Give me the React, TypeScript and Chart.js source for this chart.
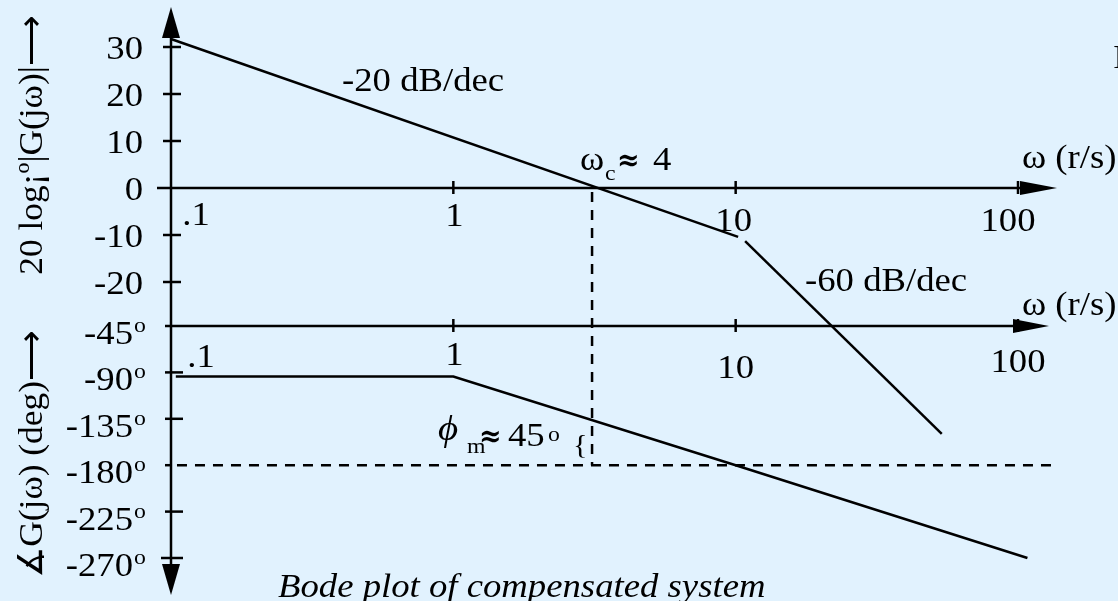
import { useEffect, useRef } from "react";
import { Chart, registerables } from "chart.js";

Chart.register(...registerables);

// Asymptotic magnitude: -20 dB/dec segment, then -60 dB/dec segment
const magLowW = [0.1, 10.2];
const magLowDb = [31.7, -10.4];
const magHighW = [10.8, 53.7];
const magHighDb = [-11.3, -52.3];

// Asymptotic phase
const phaseW = [0.104, 1, 10, 108];
const phaseDeg = [-94, -94, -180, -270];

// -180 deg reference and gain crossover frequency
const refW = [0.105, 136];
const refDeg = [-180, -180];
const crossoverW = 3.1;

// Axis ticks and labels
const magTicks = [30, 20, 10, 0, -10, -20];
const magTickLabels = ["30", "20", "10", "0", "-10", "-20"];
const phaseTicks = [-45, -90, -135, -180, -225, -270];
const phaseTickLabels = ["-45", "-90", "-135", "-180", "-225", "-270"];
const freqTicks = [1, 10, 100];
const freqLabelValues = [0.1, 1, 10, 100];
const freqLabels = [".1", "1", "10", "100"];

// Page geometry
const W = 1118;
const H = 601;
const LEFT = 171; // x of w = 0.1
const RIGHT = 1018; // x of w = 100
const TOP = 47; // y of +30 dB
const BOTTOM = 558; // y of -270 deg
const MAG_ZERO_Y = 188;
const PHASE_M45_Y = 326;

const magPerPx = 30 / (MAG_ZERO_Y - TOP);
const MAG_MIN = 30 - (BOTTOM - TOP) * magPerPx;
const degPerPx = 225 / (BOTTOM - PHASE_M45_Y);
const PHASE_MAX = -270 + (BOTTOM - TOP) * degPerPx;

const SERIF = "'Liberation Serif', 'Times New Roman', serif";
const FS = 34;
const SX = 1.08; // horizontal widening of the lettering
const BG = "#e1f2fe";

const pts = (xs: number[], ys: number[]) => xs.map((x, i) => ({ x, y: ys[i] }));

function arrow(ctx: CanvasRenderingContext2D, tipX: number, tipY: number, dir: "up" | "down" | "right", len: number, half: number) {
  ctx.beginPath();
  if (dir === "up") {
    ctx.moveTo(tipX, tipY);
    ctx.lineTo(tipX - half, tipY + len);
    ctx.lineTo(tipX + half, tipY + len);
  } else if (dir === "down") {
    ctx.moveTo(tipX, tipY);
    ctx.lineTo(tipX - half, tipY - len);
    ctx.lineTo(tipX + half, tipY - len);
  } else {
    ctx.moveTo(tipX, tipY);
    ctx.lineTo(tipX - len, tipY - half);
    ctx.lineTo(tipX - len, tipY + half);
  }
  ctx.closePath();
  ctx.fill();
}

function line(ctx: CanvasRenderingContext2D, x1: number, y1: number, x2: number, y2: number) {
  ctx.beginPath();
  ctx.moveTo(x1, y1);
  ctx.lineTo(x2, y2);
  ctx.stroke();
}

function txt(
  ctx: CanvasRenderingContext2D,
  s: string,
  x: number,
  y: number,
  font: string,
  align: CanvasTextAlign = "left",
  sx: number = SX
) {
  ctx.save();
  ctx.font = font;
  ctx.textAlign = align;
  ctx.textBaseline = "alphabetic";
  ctx.translate(x, y);
  ctx.scale(sx, 1);
  ctx.fillText(s, 0, 0);
  ctx.restore();
}

const bodeFrame = {
  id: "bodeFrame",
  afterDatasetsDraw(chart: any) {
    const ctx: CanvasRenderingContext2D = chart.ctx;
    const xs = chart.scales.x;
    const ym = chart.scales.y;
    const yp = chart.scales.yp;
    const x0 = xs.getPixelForValue(0.1);
    const yMag0 = ym.getPixelForValue(0);
    const yPh45 = yp.getPixelForValue(-45);
    const F = `${FS}px ${SERIF}`;
    const FSUB = `22px ${SERIF}`;

    ctx.save();
    ctx.strokeStyle = "#000";
    ctx.fillStyle = "#000";
    ctx.lineWidth = 2.5;
    ctx.lineCap = "butt";

    // vertical axis with arrows at both ends
    line(ctx, x0, 30, x0, 570);
    arrow(ctx, x0, 7, "up", 31, 9);
    arrow(ctx, x0, 595, "down", 31, 9);

    // magnitude frequency axis
    line(ctx, 157, yMag0, 1022, yMag0);
    arrow(ctx, 1057, yMag0, "right", 37, 7);
    // phase frequency axis
    line(ctx, 165, yPh45, 1015, yPh45);
    arrow(ctx, 1049, yPh45, "right", 36, 7);

    // frequency ticks
    for (const f of freqTicks) {
      const x = xs.getPixelForValue(f);
      line(ctx, x, yMag0 - 7, x, yMag0 + 6);
      line(ctx, x, yPh45 - 7, x, yPh45 + 6);
    }

    // vertical ticks
    for (const v of magTicks) {
      if (v === 0) continue;
      const y = ym.getPixelForValue(v);
      line(ctx, 163, y, 181, y);
    }
    for (const v of phaseTicks) {
      if (v === -45) continue;
      const y = yp.getPixelForValue(v);
      line(ctx, v === -270 ? 161 : 165, y, v === -180 ? 172 : 183, y);
    }

    // crossover dashed marker
    ctx.setLineDash([10, 8]);
    const xc = xs.getPixelForValue(crossoverW);
    line(ctx, xc, yMag0 + 4, xc, yp.getPixelForValue(-180));
    ctx.setLineDash([]);

    // magnitude tick labels
    magTicks.forEach((v, i) => {
      txt(ctx, magTickLabels[i], 143, ym.getPixelForValue(v) + 12, F, "right");
    });
    // phase tick labels with raised "o"
    phaseTicks.forEach((v, i) => {
      const base = yp.getPixelForValue(v) + 18;
      txt(ctx, phaseTickLabels[i], 133, base, F, "right");
      txt(ctx, "o", 134, base - 12, FSUB, "left");
    });

    // frequency labels
    const magDx = [25, 1, -2, -10];
    const magDy = [37, 38, 43, 43];
    const phDx = [30, 1, 0, 0];
    const phDy = [41, 39, 52, 46];
    freqLabelValues.forEach((f, i) => {
      const x = xs.getPixelForValue(f);
      txt(ctx, freqLabels[i], x + magDx[i], yMag0 + magDy[i], F, "center");
      txt(ctx, freqLabels[i], x + phDx[i], yPh45 + phDy[i], F, "center");
    });

    // axis unit labels
    txt(ctx, "\u03c9 (r/s)", 1022, 168, F);
    txt(ctx, "\u03c9 (r/s)", 1022, 315, F);
    txt(ctx, "I", 1113, 68, F);

    // slope annotations
    txt(ctx, "-20 dB/dec", 342, 91, F);
    txt(ctx, "-60 dB/dec", 805, 291, F);

    // crossover label
    const FEQ = `bold 30px 'DejaVu Serif', serif`;
    txt(ctx, "\u03c9", 580, 170, F);
    txt(ctx, "c", 605, 180, FSUB);
    txt(ctx, "\u2248", 617, 170, FEQ, "left", 0.9);
    txt(ctx, "4", 653, 170, F);

    // phase margin label
    txt(ctx, "\u03d5", 438, 440, `italic 36px ${SERIF}`);
    txt(ctx, "m", 467, 453, FSUB);
    txt(ctx, "\u2248", 479, 446, FEQ, "left", 0.9);
    txt(ctx, "45", 508, 446, F);
    txt(ctx, "o", 548, 441, FSUB);
    txt(ctx, "{", 573, 454, `28px ${SERIF}`);

    // caption
    txt(ctx, "Bode plot of compensated system", 278, 597, `italic ${FS}px ${SERIF}`);

    // rotated axis titles
    ctx.save();
    ctx.translate(42, 145);
    ctx.rotate(-Math.PI / 2);
    txt(ctx, "20 log\u00a1\u00ba|G(j\u03c9)|\u27f6", 0, 0, F, "center", 1.04);
    ctx.restore();
    ctx.save();
    ctx.translate(42, 454);
    ctx.rotate(-Math.PI / 2);
    txt(ctx, "\u2221G(j\u03c9) (deg)\u27f6", 0, 0, F, "center", 1.04);
    ctx.restore();

    ctx.restore();
  },
};

export default function App() {
  const ref = useRef<HTMLCanvasElement>(null);

  useEffect(() => {
    if (!ref.current) return;
    const lineStyle = {
      borderColor: "#000",
      borderWidth: 2.5,
      pointRadius: 0,
      fill: false,
      tension: 0,
      clip: false as const,
    };
    const chart = new Chart(ref.current, {
      type: "line",
      data: {
        datasets: [
          { ...lineStyle, label: "-20 dB/dec", data: pts(magLowW, magLowDb), yAxisID: "y" },
          { ...lineStyle, label: "-60 dB/dec", data: pts(magHighW, magHighDb), yAxisID: "y" },
          { ...lineStyle, label: "phase", data: pts(phaseW, phaseDeg), yAxisID: "yp" },
          { ...lineStyle, label: "-180", data: pts(refW, refDeg), yAxisID: "yp", borderDash: [10, 8] },
        ],
      },
      options: {
        animation: false,
        responsive: true,
        maintainAspectRatio: false,
        layout: { padding: { left: LEFT, right: W - RIGHT, top: TOP, bottom: H - BOTTOM } },
        plugins: { legend: { display: false }, tooltip: { enabled: false } },
        events: [],
        scales: {
          x: { type: "logarithmic", min: 0.1, max: 100, display: false },
          y: { type: "linear", min: MAG_MIN, max: 30, display: false },
          yp: { type: "linear", min: -270, max: PHASE_MAX, display: false },
        },
      },
      plugins: [bodeFrame],
    });
    return () => chart.destroy();
  }, []);

  return (
    <div style={{ position: "fixed", left: 0, top: 0, width: W, height: H, background: BG }}>
      <canvas ref={ref} />
    </div>
  );
}
